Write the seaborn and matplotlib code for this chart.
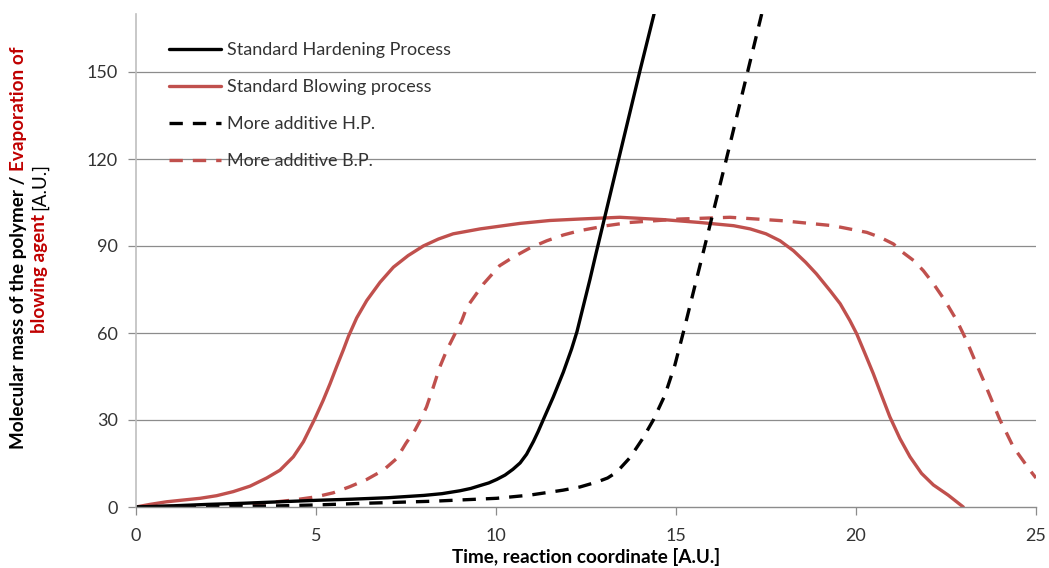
import numpy as np
import pandas as pd
import matplotlib
matplotlib.use("Agg")
import matplotlib.pyplot as plt
from matplotlib.lines import Line2D
from matplotlib.transforms import IdentityTransform
import seaborn as sns

# ---------------- data ----------------
series_names = ["Standard Hardening Process", "Standard Blowing process",
                "More additive H.P.", "More additive B.P."]

x_std_hard = [0, 1, 2, 3, 4, 5, 6, 7, 8, 8.5, 9, 9.3, 9.56, 9.8, 10.02, 10.25,
              10.47, 10.67, 10.85, 11.04, 11.17, 11.31, 11.59, 11.87, 12.10, 12.25,
              12.43, 12.61, 12.78, 13.07, 13.35, 13.68, 14.0, 14.23, 14.39]
y_std_hard = [0, 0.4, 0.9, 1.3, 1.8, 2.3, 2.7, 3.2, 4.0, 4.6, 5.6, 6.4, 7.4, 8.3,
              9.5, 11.0, 13.0, 15.2, 18.2, 22.6, 26.0, 30.0, 37.9, 46.5, 54.5,
              60.5, 69.5, 78.5, 87.5, 102.5, 117.0, 134.0, 150.5, 162.0, 170.0]

x_std_blow = [0, 0.39, 0.85, 1.31, 1.78, 2.24, 2.7, 3.17, 3.63, 4.0, 4.37, 4.65,
              4.97, 5.2, 5.39, 5.57, 5.76, 5.9, 6.13, 6.41, 6.78, 7.15, 7.56, 7.98,
              8.4, 8.81, 9.56, 10.67, 11.5, 12.33, 13.44, 14.64, 15.67, 16.6, 17.06,
              17.5, 17.89, 18.26, 18.6, 18.9, 19.28, 19.56, 19.83, 20.02, 20.25,
              20.48, 20.71, 20.94, 21.22, 21.5, 21.82, 22.15, 22.56, 22.98]
y_std_blow = [0, 0.9, 1.8, 2.4, 3.0, 3.9, 5.3, 7.2, 10.0, 12.7, 17.3, 22.5,
              30.5, 36.8, 42.5, 48.3, 54.2, 58.8, 65.2, 71.2, 77.5, 82.7, 86.7, 90.0,
              92.4, 94.2, 95.9, 97.8, 98.8, 99.3, 99.9, 99.1, 98.1, 97.0, 95.9,
              94.2, 91.8, 88.4, 84.4, 80.4, 74.6, 70.1, 64.3, 59.7, 52.9,
              46.0, 38.5, 31.1, 23.6, 17.3, 11.6, 7.6, 4.1, 0.0]

x_add_hard = [0, 2, 4, 5, 6.4, 8.26, 10.02, 10.94, 11.86, 12.33, 12.8, 13.1, 13.35,
              13.72, 14.07, 14.37, 14.69, 14.97, 15.22, 15.5, 15.78, 16.04, 16.38,
              16.69, 17.0, 17.38]
y_add_hard = [0, 0.1, 0.4, 0.7, 1.3, 2.0, 3.0, 4.1, 5.8, 6.9, 8.6, 10.0, 12.0,
              17.0, 23.5, 30.0, 38.5, 49.0, 61.0, 75.0, 89.0, 102.0, 119.0, 134.8,
              150.6, 170.0]

x_add_blow = [0, 1.78, 3.6, 4.37, 5.0, 5.48, 5.94, 6.41, 6.87, 7.24, 7.5, 7.75, 7.9,
              8.07, 8.26, 8.44, 8.63, 8.86, 9.05, 9.19, 9.42, 9.65, 10.1, 10.47,
              10.94, 11.41, 11.87, 12.33, 13.07, 13.7, 15.1, 16.5, 17.97, 19.36,
              20.3, 20.67, 21.04, 21.3, 21.6, 21.87, 22.15, 22.47, 22.8, 23.07, 23.3,
              23.54, 23.77, 24.0, 24.19, 24.37, 24.6, 24.83, 25.0]
y_add_blow = [0, 0.5, 1.4, 2.4, 3.5, 4.9, 7.0, 9.5, 12.7, 16.7, 22.0, 26.5, 30.0,
              34.5, 41.4, 48.3, 54.0, 59.7, 64.3, 68.9, 72.9, 76.9, 83.2, 86.1,
              89.3, 91.8, 93.8, 95.3, 97.0, 98.1, 99.3, 99.9, 98.7, 97.0,
              94.7, 93.0, 90.7, 87.8, 85.0, 81.5, 77.0, 71.2, 64.3, 57.4, 50.6,
              43.7, 36.8, 30.0, 25.3, 20.7, 16.7, 12.7, 10.0]

x_ticks = [0, 5, 10, 15, 20, 25]
y_ticks = [0, 30, 60, 90, 120, 150]

# ---------------- styling ----------------
RED = "#C0504D"
colors = {"Standard Hardening Process": "black", "Standard Blowing process": RED,
          "More additive H.P.": "black", "More additive B.P.": RED}
dashes = {"Standard Hardening Process": "", "Standard Blowing process": "",
          "More additive H.P.": (4, 3), "More additive B.P.": (4, 3)}
draw_order = ["Standard Blowing process", "More additive B.P.",
              "Standard Hardening Process", "More additive H.P."]

sns.set_theme(style="white")
plt.rcParams['font.family'] = ['Lato', 'DejaVu Sans']
FS = 13
FSB = 13.6
TXT = "#333333"

W, H = 1049, 568
fig = plt.figure(figsize=(W / 100, H / 100), dpi=100)
ax = fig.add_axes([136 / W, 1 - 507 / H, 900 / W, 493 / H])

frames = []
for name, xs, ys in [(series_names[0], x_std_hard, y_std_hard),
                     (series_names[1], x_std_blow, y_std_blow),
                     (series_names[2], x_add_hard, y_add_hard),
                     (series_names[3], x_add_blow, y_add_blow)]:
    frames.append(pd.DataFrame({"x": xs, "y": ys, "series": name}))
df = pd.concat(frames, ignore_index=True)

sns.lineplot(data=df, x="x", y="y", hue="series", style="series",
             hue_order=draw_order, style_order=draw_order,
             palette=colors, dashes=dashes, sort=False, estimator=None,
             linewidth=2.4, legend=False, ax=ax,
             solid_joinstyle="round", dash_joinstyle="round")

ax.set_xlim(0, 25)
ax.set_ylim(0, 170)
ax.set_xticks(x_ticks)
ax.set_yticks(y_ticks)
ax.set_xticklabels([str(v) for v in x_ticks])
ax.set_yticklabels([str(v) for v in y_ticks])
ax.grid(False)
for v in y_ticks[1:]:
    ax.axhline(v, color="#8C8C8C", lw=0.9, zorder=0)

for s in ["top", "right"]:
    ax.spines[s].set_visible(False)
ax.spines["left"].set_color("#BFBFBF")
ax.spines["left"].set_linewidth(1.2)
ax.spines["bottom"].set_color("#8C8C8C")
ax.spines["bottom"].set_linewidth(1.0)
ax.tick_params(axis="y", direction="out", length=6, width=0.9, color="#8C8C8C",
               pad=7, labelsize=FS, labelcolor=TXT, left=True)
ax.tick_params(axis="x", direction="out", length=6, width=0.9, color="#8C8C8C",
               pad=9, labelsize=FS, labelcolor=TXT, bottom=True)

ax.set_xlabel("Time, reaction coordinate [A.U.]", fontsize=FSB, fontweight="bold",
              color="black", labelpad=3)
ax.set_ylabel("")

# legend
handles = []
for name in series_names:
    handles.append(Line2D([0], [0], color=colors[name], lw=2.4,
                          dashes=dashes[name] if dashes[name] else (None, None)))
leg = ax.legend(handles, series_names, loc="upper left", frameon=False,
                fontsize=FS, handlelength=2.88, handletextpad=0.33,
                labelspacing=1.16, bbox_to_anchor=(0.029, 0.957),
                borderaxespad=0.0)
for t in leg.get_texts():
    t.set_color(TXT)

# multi-coloured rotated y label
renderer = fig.canvas.get_renderer()
LRED = "#C00000"


def advance(s, weight):
    t1 = fig.text(0, 0, s + "M", fontsize=FSB, fontweight=weight)
    t2 = fig.text(0, 0, "M", fontsize=FSB, fontweight=weight)
    w = t1.get_window_extent(renderer).width - t2.get_window_extent(renderer).width
    t1.remove()
    t2.remove()
    return w


def rich_line(xb, yc, pieces):
    advs = [advance(s, w) for s, c, w in pieces]
    total = sum(advs)
    y = yc - total / 2
    for (s, c, w), a in zip(pieces, advs):
        fig.text(xb, y, s, color=c, fontsize=FSB, fontweight=w, rotation=90,
                 rotation_mode="anchor", ha="left", va="baseline",
                 transform=IdentityTransform())
        y += a


yc = H - 248
rich_line(24, yc, [("Molecular mass of the polymer / ", "black", "bold"),
                   ("Evaporation of", LRED, "bold")])
rich_line(45, yc, [("blowing agent ", LRED, "bold"),
                   ("[A.U.]", "black", "normal")])

fig.savefig("out.png", dpi=100)
